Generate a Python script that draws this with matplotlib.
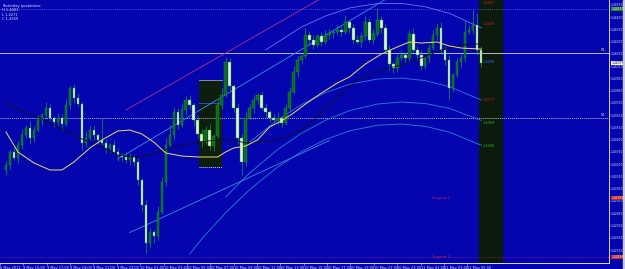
import numpy as np
import matplotlib.pyplot as plt
from matplotlib.patches import Rectangle

# === Price bars ===
first_open = 1.43203
closes = [
    1.43244, 1.43350, 1.43301, 1.43407, 1.43488, 1.43546, 1.43464, 1.43529, 1.43611, 1.43652,
    1.43709, 1.43627, 1.43595, 1.43627, 1.43578, 1.43733, 1.43872, 1.43790, 1.43741, 1.43423,
    1.43464, 1.43529, 1.43488, 1.43448, 1.43423, 1.43382, 1.43407, 1.43350, 1.43325, 1.43309,
    1.43284, 1.43309, 1.43268, 1.43121, 1.42917, 1.42607, 1.42697, 1.42664, 1.42860, 1.43105,
    1.43407, 1.43488, 1.43676, 1.43570, 1.43692, 1.43774, 1.43733, 1.43611, 1.43497, 1.43431,
    1.43529, 1.43399, 1.43480, 1.43733, 1.43815, 1.44084, 1.43888, 1.43709, 1.43464, 1.43268,
    1.43627, 1.43709, 1.43774, 1.43815, 1.43709, 1.43676, 1.43627, 1.43611, 1.43627, 1.43586,
    1.43709, 1.43839, 1.44002, 1.44100, 1.44133, 1.44304, 1.44264, 1.44223, 1.44296, 1.44247,
    1.44304, 1.44321, 1.44329, 1.44345, 1.44329, 1.44410, 1.44362, 1.44264, 1.44247, 1.44296,
    1.44410, 1.44264, 1.44313, 1.44427, 1.44362, 1.44182, 1.44068, 1.44035, 1.44117, 1.44141,
    1.44117, 1.44313, 1.44182, 1.44141, 1.44051, 1.44117, 1.44198, 1.44304, 1.44362, 1.44182,
    1.44100, 1.43872, 1.43978, 1.44084, 1.44117, 1.44329, 1.44345, 1.44386, 1.44182, 1.44076,
]
upper_wick_pips = [
    3, 2, 4, 3, 5, 2, 6, 3, 4, 2, 5, 3, 2, 4, 3, 5, 2, 3, 4, 2,
    6, 3, 4, 2, 18, 3, 2, 4, 3, 2, 4, 3, 2, 3, 2, 4, 3, 2, 5, 4,
    6, 8, 4, 3, 5, 3, 4, 2, 3, 4, 3, 5, 2, 4, 6, 4, 3, 2, 4, 3,
    5, 3, 4, 2, 3, 4, 2, 3, 5, 2, 3, 4, 5, 3, 2, 6, 3, 4, 2, 3,
    4, 3, 2, 4, 3, 6, 2, 3, 4, 3, 5, 3, 4, 10, 3, 3, 4, 2, 3, 4,
    2, 3, 5, 3, 4, 2, 3, 4, 4, 5, 3, 4, 2, 3, 3, 10, 4, 12, 10, 3,
]
lower_wick_pips = [
    4, 3, 2, 4, 3, 2, 5, 3, 2, 4, 3, 2, 4, 3, 5, 2, 3, 4, 2, 6,
    3, 2, 4, 3, 2, 4, 3, 2, 5, 3, 2, 4, 3, 4, 5, 8, 4, 6, 3, 2,
    3, 2, 4, 3, 2, 4, 3, 5, 3, 4, 2, 3, 4, 2, 3, 2, 4, 3, 5, 11,
    3, 2, 4, 3, 2, 4, 3, 2, 4, 3, 2, 3, 2, 4, 3, 2, 4, 3, 2, 3,
    2, 3, 4, 2, 3, 2, 4, 3, 2, 4, 3, 2, 3, 2, 4, 3, 5, 4, 3, 2,
    4, 3, 2, 4, 3, 2, 3, 2, 4, 3, 4, 10, 3, 2, 4, 3, 2, 3, 4, 3,
]

# === Moving averages (bar index, price) ===
ma_fast_idx = [0, 3, 7, 11, 14, 17, 21, 24, 28, 31, 34, 37, 40, 44, 48, 53, 55, 57, 60, 63,
               66, 69, 72, 75, 79, 83, 86, 90, 94, 98, 101, 104, 108, 111, 114, 119]
ma_fast = [1.43513, 1.43350, 1.43260, 1.43203, 1.43203, 1.43268, 1.43382, 1.43448, 1.43521, 1.43529,
           1.43497, 1.43431, 1.43342, 1.43317, 1.43309, 1.43309, 1.43350, 1.43382, 1.43399, 1.43448,
           1.43554, 1.43603, 1.43668, 1.43741, 1.43831, 1.43913, 1.43962, 1.44068, 1.44149, 1.44207,
           1.44247, 1.44239, 1.44247, 1.44215, 1.44198, 1.44190]
ma_slow_idx = [0, 4, 9, 14, 19, 24, 28, 32, 36, 41, 48, 53, 57, 60, 64, 69, 74, 79, 83, 88,
               94, 99, 104, 109, 114, 117, 119]
ma_slow = [1.43758, 1.43684, 1.43619, 1.43537, 1.43456, 1.43390, 1.43325, 1.43309, 1.43325, 1.43382,
           1.43431, 1.43448, 1.43448, 1.43423, 1.43431, 1.43456, 1.43529, 1.43668, 1.43798, 1.43937,
           1.44019, 1.44060, 1.44117, 1.44182, 1.44223, 1.44231, 1.44231]

# === Regression arcs and trend lines (bar index, price) ===
arc_a_idx = [65, 74, 80, 86, 93, 99, 105, 111, 119]
arc_a = [1.44182, 1.44370, 1.44459, 1.44525, 1.44561, 1.44562, 1.44535, 1.44481, 1.44363]
arc_b_idx = [61, 68, 74, 80, 86, 93, 99, 105, 111, 119]
arc_b = [1.43431, 1.43611, 1.43737, 1.43834, 1.43902, 1.43945, 1.43953, 1.43932, 1.43883, 1.43774]
arc_c_idx = [55, 61, 68, 74, 80, 86, 93, 99, 105, 111, 119]
arc_c = [1.42983, 1.43178, 1.43369, 1.43503, 1.43608, 1.43687, 1.43741, 1.43758, 1.43745, 1.43706, 1.43608]
arc_d_idx = [46, 49, 55, 61, 68, 74, 80, 86, 93, 99, 105, 111, 119]
arc_d = [1.42517, 1.42640, 1.42854, 1.43042, 1.43226, 1.43353, 1.43451, 1.43522, 1.43568, 1.43578,
         1.43559, 1.43512, 1.43405]
trend_idx = [30, 80]
trend = [1.43692, 1.44623]
chan1_idx = [28, 95]
chan1 = [1.43293, 1.44594]
chan2_idx = [31, 81]
chan2 = [1.42693, 1.43444]

# === Horizontal levels ===
level_r = 1.44158
level_s = 1.43627
level_top = 1.44517
level_support2 = 1.42493
level_support1 = 1.42974
box_idx = [48.25, 54.0]
box_price = [1.43227, 1.43937]
box_mid = 1.43750

price_ticks = [1.42550 + 0.0010 * k for k in range(21)]
time_labels = ["6 May 2011", "9 May 15:00", "9 May 17:00", "9 May 19:00", "9 May 21:00",
               "9 May 23:00", "10 May 01:00", "10 May 03:00", "10 May 05:00", "10 May 07:00",
               "10 May 09:00", "10 May 11:00", "10 May 13:00", "10 May 15:00", "10 May 17:00",
               "10 May 19:00", "10 May 21:00", "10 May 23:00", "11 May 01:00", "11 May 03:00",
               "11 May 05:00"]
side_labels = [(1.44566, "1.4457", "#d02020"), (1.44394, "1.4439", "#c02030"),
               (1.44084, "1.4408", "#3070ff"), (1.43774, "1.4377", "#c02030"),
               (1.43586, "1.4359", "#30c030"), (1.43399, "1.4340", "#30c030")]

# === Figure ===
bg = "#0505B0"
fig = plt.figure(figsize=(6.25, 2.69), dpi=100, facecolor=bg)
ax = fig.add_axes([0, 6 / 269, 609 / 625, 263 / 269])
ax.set_facecolor(bg)
ax.set_xlim(-1.25, 151)
ax.set_ylim(1.42444, 1.44590)

n = len(closes)
idx = np.arange(n)
closes_a = np.array(closes)
opens_a = np.array([first_open] + closes[:-1])
highs = np.maximum(opens_a, closes_a) + np.array(upper_wick_pips) * 1e-4
lows = np.minimum(opens_a, closes_a) - np.array(lower_wick_pips) * 1e-4

# dark column on the right and the session box
ax.add_patch(Rectangle((118.5, 1.42444), 5.75, 0.03, color="#0b1a0b", zorder=1))
ax.add_patch(Rectangle((box_idx[0], box_price[0]), box_idx[1] - box_idx[0],
                       box_price[1] - box_price[0], facecolor="#0e1e0e",
                       edgecolor="none", zorder=1))
ax.plot(box_idx, [box_price[1]] * 2, color="#8a8a9a", lw=0.7, zorder=2)
ax.plot(box_idx, [box_price[0]] * 2, color="#d0d0d0", lw=0.7, ls=(0, (1, 1)), zorder=2)
ax.plot(box_idx, [box_mid] * 2, color="#3050ff", lw=0.6, zorder=2)

# horizontal levels
ax.axhline(level_r, color="#b8b8d0", lw=0.7, zorder=2)
ax.axhline(level_s, color="#b8b8d0", lw=0.7, ls=(0, (1, 1)), zorder=2)
ax.axhline(level_top, color="#8090ff", lw=0.5, ls=(0, (1, 2)), zorder=2)
ax.axhline(level_support2, color="#c02060", lw=0.6, ls=(0, (1, 2)), zorder=2)
ax.text(150, level_r + 0.00005, "R1", color="#c8c8a0", fontsize=2.6, ha="right", va="bottom")
ax.text(150, level_s + 0.00005, "S1", color="#c8c8a0", fontsize=2.6, ha="right", va="bottom")
ax.text(109, level_support2, "Support 2", color="#c02060", fontsize=2.6, ha="center", va="center")
ax.text(109, level_support1, "Support 1", color="#c02060", fontsize=2.6, ha="center", va="center")

# arcs and trend lines
for xs, ys, c in [(arc_a_idx, arc_a, "#7070f0"), (arc_b_idx, arc_b, "#3078d8"),
                  (arc_c_idx, arc_c, "#2a80d0"), (arc_d_idx, arc_d, "#2a80d0")]:
    ax.plot(xs, ys, color=c, lw=0.6, zorder=2)
ax.plot(trend_idx, trend, color="#b03090", lw=0.6, zorder=2)
ax.plot(chan1_idx, chan1, color="#3c8ce0", lw=0.6, zorder=2)
ax.plot(chan2_idx, chan2, color="#3c8ce0", lw=0.6, zorder=2)

# candles
ax.vlines(idx, lows, highs, color="#1c9a3a", lw=0.5, zorder=3)
bull = closes_a >= opens_a
body_lo = np.minimum(opens_a, closes_a)
body_h = np.maximum(np.abs(closes_a - opens_a), 0.00004)
ax.bar(idx[bull], body_h[bull], bottom=body_lo[bull], width=0.6,
       color="#0a6a1a", edgecolor="#1c9a3a", lw=0.3, zorder=4)
ax.bar(idx[~bull], body_h[~bull], bottom=body_lo[~bull], width=0.6,
       color="#e2f5c6", edgecolor="#1c9a3a", lw=0.3, zorder=4)

# moving averages
ax.plot(ma_slow_idx, ma_slow, color="#101010", lw=0.6, zorder=5)
ax.plot(ma_fast_idx, ma_fast, color="#e8e060", lw=0.7, zorder=5)

# labels in the dark column
for p, t, c in side_labels:
    ax.text(119.3, p, t, color=c, fontsize=2.5, va="center", zorder=6)

# axes frame: only right and bottom borders
for s in ["top", "left"]:
    ax.spines[s].set_visible(False)
for s in ["right", "bottom"]:
    ax.spines[s].set_color("#d8d8ff")
    ax.spines[s].set_linewidth(0.7)

ax.yaxis.tick_right()
ax.set_yticks(price_ticks)
ax.set_yticklabels([f"{p:.5f}" for p in price_ticks])
ax.tick_params(axis="y", colors="#d8d8ff", labelsize=2.2, length=1.0, width=0.4, pad=0.4)
tick_pos = [-1.5 + 5.85 * k for k in range(len(time_labels))]
ax.set_xticks(tick_pos)
ax.set_xticklabels(time_labels, ha="left")
ax.tick_params(axis="x", colors="#d8d8ff", labelsize=2.5, length=1.5, width=0.4, pad=0.8)

# price boxes on the axis
for p, t, fc, tc in [(level_top, "1.44517", "#208020", "#ffffff"),
                     (closes[-1], f"{closes[-1]:.5f}", "#ffffff", "#000000"),
                     (level_support1, "1.42974", "#c02020", "#ffffff"),
                     (level_support2, "1.42493", "#c02020", "#ffffff")]:
    ax.text(151.6, p, t, color=tc, fontsize=2.2, va="center", ha="left",
            bbox=dict(boxstyle="square,pad=0.1", fc=fc, ec="none"), zorder=7, clip_on=False)

# top-left info
info = ["Yesterday quotations:", "H 1.4403", "L 1.4271", "C 1.4349"]
for k, line in enumerate(info):
    fig.text(0.004, 1 - (6 + 4.4 * k) / 269, line, color="#e0e0ff", fontsize=2.6, va="center")

# scroll strip at far right
fig.patches.append(Rectangle((623 / 625, 0), 2 / 625, 1, transform=fig.transFigure,
                             color="#c8c8d0", zorder=0))

fig.savefig("out.png", dpi=100, facecolor=bg)
